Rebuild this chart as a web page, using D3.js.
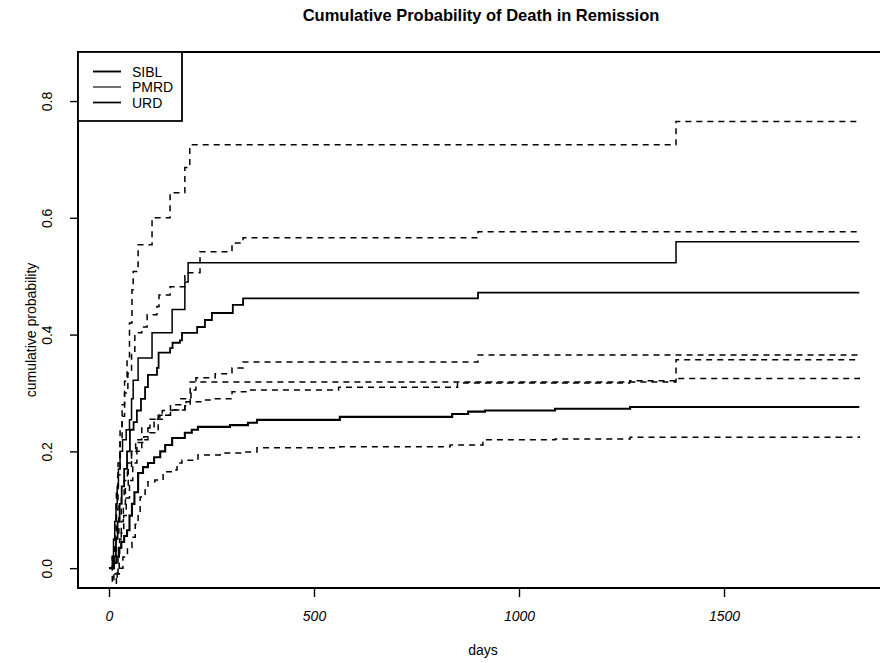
<!DOCTYPE html>
<html lang="en">
<head>
    <meta charset="UTF-8">
    <title>Cumulative Probability of Death in Remission</title>
    <script src="https://d3js.org/d3.v7.min.js"></script>
    <style>
        body { margin: 0; background: #fff; }
        svg { font-family: "Liberation Sans", Arial, Helvetica, sans-serif; }
        .tick line { stroke: #000; stroke-width: 1.4px; }
        .tick text { font-size: 14px; fill: #000; }
    </style>
</head>
<body>
    <div id="chart"></div>
    <script>
        // step curves: [days, cumulative probability]
        const pmrdEst = [[0,0],[8,0.02],[11,0.05],[14,0.08],[17,0.11],[20,0.14],[23,0.17],[27,0.2],[33,0.22],[42,0.237],[50,0.254],[55,0.29],[59,0.322],[71,0.36],[105,0.403],[154,0.443],[185,0.49],[193,0.523],[1383,0.559],[1830,0.559]];
        const pmrdUpper = [[0,0],[8,0.02],[14,0.06],[18,0.1],[22,0.16],[27,0.237],[32,0.28],[38,0.32],[44,0.362],[50,0.42],[56,0.477],[59,0.508],[71,0.554],[105,0.6],[149,0.643],[185,0.686],[197,0.725],[1383,0.765],[1830,0.765]];
        const pmrdLower = [[0,0],[8,-0.026],[18,-0.01],[22,0.02],[26,0.05],[30,0.08],[35,0.11],[40,0.14],[47,0.17],[55,0.2],[65,0.22],[80,0.24],[100,0.255],[124,0.262],[150,0.271],[185,0.278],[198,0.319],[1383,0.357],[1830,0.357]];

        const urdEst = [[0,0],[12,0.02],[17,0.05],[21,0.08],[26,0.11],[31,0.14],[37,0.17],[44,0.2],[51,0.237],[60,0.25],[68,0.27],[78,0.29],[88,0.31],[95,0.331],[117,0.343],[121,0.369],[149,0.377],[155,0.386],[173,0.39],[178,0.403],[215,0.413],[234,0.425],[251,0.437],[302,0.451],[327,0.462],[900,0.472],[1830,0.472]];
        const urdUpper = [[0,0],[10,0.03],[14,0.08],[18,0.13],[22,0.18],[27,0.22],[32,0.26],[38,0.3],[46,0.334],[55,0.37],[63,0.403],[80,0.413],[93,0.434],[117,0.448],[122,0.468],[149,0.482],[185,0.506],[222,0.542],[300,0.557],[327,0.566],[900,0.576],[1830,0.576]];
        const urdLower = [[0,0],[12,-0.02],[20,0.0],[25,0.03],[30,0.06],[36,0.09],[42,0.12],[50,0.15],[58,0.18],[68,0.2],[80,0.22],[95,0.24],[110,0.255],[130,0.27],[150,0.28],[175,0.29],[200,0.305],[212,0.326],[259,0.333],[300,0.343],[327,0.353],[900,0.365],[1830,0.365]];

        const siblEst = [[0,0],[12,0.009],[18,0.02],[24,0.035],[30,0.045],[37,0.055],[44,0.065],[50,0.09],[56,0.11],[62,0.13],[71,0.163],[83,0.173],[95,0.18],[110,0.19],[125,0.2],[137,0.211],[154,0.223],[185,0.232],[202,0.237],[217,0.242],[295,0.245],[339,0.249],[361,0.254],[563,0.259],[837,0.264],[876,0.268],[917,0.27],[1088,0.273],[1271,0.276],[1830,0.276]];
        const siblUpper = [[0,0],[12,0.03],[18,0.06],[24,0.09],[30,0.12],[37,0.15],[45,0.18],[55,0.2],[68,0.215],[85,0.225],[100,0.232],[120,0.262],[154,0.271],[185,0.276],[188,0.285],[229,0.288],[250,0.29],[300,0.302],[340,0.305],[560,0.31],[850,0.317],[1270,0.321],[1383,0.325],[1830,0.328]];
        const siblLower = [[0,0],[15,-0.01],[25,0.0],[34,0.019],[45,0.035],[56,0.053],[64,0.075],[71,0.094],[76,0.122],[88,0.134],[95,0.148],[112,0.151],[132,0.165],[154,0.168],[166,0.18],[178,0.185],[217,0.194],[271,0.197],[327,0.199],[361,0.206],[563,0.208],[832,0.211],[912,0.22],[1088,0.221],[1271,0.224],[1830,0.226]];

        const legendNames = ["SIBL", "PMRD", "URD"];
        const xTicks = [0, 500, 1000, 1500];
        const yTicks = [0, 0.2, 0.4, 0.6, 0.8];

        const width = 880;
        const height = 663;
        const plotLeft = 78, plotRight = 888, plotTop = 52, plotBottom = 588;

        const svg = d3.select("#chart")
            .append("svg")
            .attr("width", width)
            .attr("height", height);

        const x = d3.scaleLinear().domain([-75.6, 1900]).range([plotLeft, plotRight]);
        const y = d3.scaleLinear().domain([-0.034, 0.884]).range([plotBottom, plotTop]);

        const line = d3.line()
            .x(d => x(d[0]))
            .y(d => y(d[1]))
            .curve(d3.curveStepAfter);

        // estimates (solid) and confidence bounds (dashed)
        const curves = [
            {data: pmrdUpper, dash: "6,5", w: 1.5},
            {data: pmrdLower, dash: "6,5", w: 1.5},
            {data: urdUpper, dash: "6,5", w: 1.5},
            {data: urdLower, dash: "6,5", w: 1.5},
            {data: siblUpper, dash: "6,5", w: 1.5},
            {data: siblLower, dash: "6,5", w: 1.5},
            {data: pmrdEst, dash: null, w: 1.5},
            {data: urdEst, dash: null, w: 1.8},
            {data: siblEst, dash: null, w: 2.1}
        ];

        svg.selectAll(".curve")
            .data(curves)
            .enter()
            .append("path")
            .attr("class", "curve")
            .attr("d", d => line(d.data))
            .attr("fill", "none")
            .attr("stroke", "#000")
            .attr("stroke-width", d => d.w)
            .attr("stroke-dasharray", d => d.dash);

        // axes
        const xAxis = svg.append("g")
            .attr("transform", `translate(0,${plotBottom})`)
            .call(d3.axisBottom(x).tickValues(xTicks).tickSize(9).tickFormat(d3.format("d")));
        xAxis.select(".domain").remove();
        xAxis.selectAll(".tick text")
            .attr("y", 33)
            .attr("dy", 0)
            .style("font-style", "italic");

        const yAxis = svg.append("g")
            .attr("transform", `translate(${plotLeft},0)`)
            .call(d3.axisLeft(y).tickValues(yTicks).tickSize(8).tickFormat(d3.format(".1f")));
        yAxis.select(".domain").remove();
        yAxis.selectAll(".tick text")
            .attr("transform", "rotate(-90)")
            .attr("x", 0)
            .attr("y", -26)
            .attr("dy", 0)
            .style("text-anchor", "middle");

        // plot frame
        svg.append("rect")
            .attr("x", plotLeft)
            .attr("y", plotTop)
            .attr("width", plotRight - plotLeft)
            .attr("height", plotBottom - plotTop)
            .attr("fill", "none")
            .attr("stroke", "#000")
            .attr("stroke-width", 2);

        // titles
        svg.append("text")
            .attr("x", 481)
            .attr("y", 21)
            .attr("text-anchor", "middle")
            .style("font-size", "16.5px")
            .style("font-weight", "bold")
            .text("Cumulative Probability of Death in Remission");

        svg.append("text")
            .attr("x", 483)
            .attr("y", 655)
            .attr("text-anchor", "middle")
            .style("font-size", "14px")
            .text("days");

        svg.append("text")
            .attr("transform", `translate(36,${(plotTop + plotBottom) / 2 + 10}) rotate(-90)`)
            .attr("text-anchor", "middle")
            .style("font-size", "14px")
            .text("cumulative probability");

        // legend
        const legend = svg.append("g");
        legend.append("rect")
            .attr("x", plotLeft)
            .attr("y", plotTop)
            .attr("width", 104)
            .attr("height", 69)
            .attr("fill", "#fff")
            .attr("stroke", "#000")
            .attr("stroke-width", 1.8);

        const legendWidths = [1.9, 1.1, 1.7];
        const items = legend.selectAll(".legend-item")
            .data(legendNames)
            .enter()
            .append("g")
            .attr("class", "legend-item")
            .attr("transform", (d, i) => `translate(0,${71.5 + i * 15.5})`);

        items.append("line")
            .attr("x1", 93)
            .attr("x2", 121)
            .attr("stroke", "#000")
            .attr("stroke-width", (d, i) => legendWidths[i]);

        items.append("text")
            .attr("x", 132)
            .attr("y", 5)
            .style("font-size", "14px")
            .text(d => d);
    </script>
</body>
</html>
